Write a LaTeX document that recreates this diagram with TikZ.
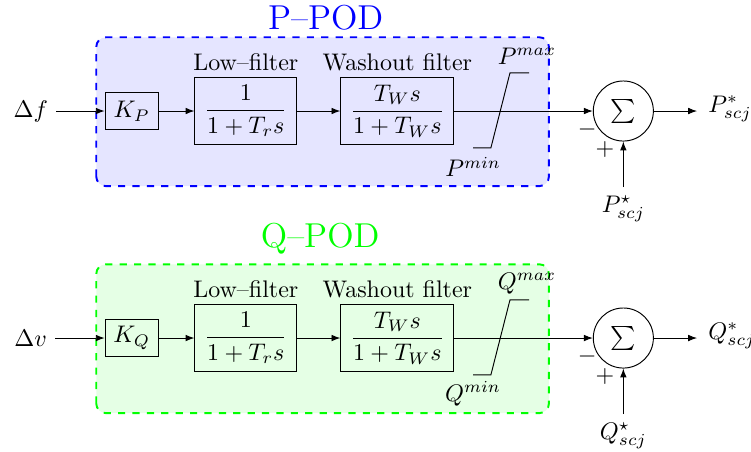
\documentclass[tikz,border=0pt]{standalone}
\usepackage{amsmath,amssymb}
\usetikzlibrary{arrows.meta,positioning}
\tikzset{
  blokk/.style={draw,inner sep=3pt,minimum height=0.97cm},
  nyil/.style={-{Latex[length=1.3mm]}},
  szum/.style={circle,draw,minimum size=0.88cm,inner sep=0pt},
  keret/.style={draw,thick,dashed,rounded corners=4pt},
}
\begin{document}
\begin{tikzpicture}
  \useasboundingbox (0,0) rectangle (11,6.606);
  \foreach \yy/\nev/\bem/\col/\tx/\ty in {4.98/P/f/blue/4.77/1.20,1.655/Q/v/green/4.69/1.33}{
  \begin{scope}[yshift=\yy cm]
    \draw[keret,\col,fill=\col!10] (1.41,-1.10) rectangle (8.04,1.08);
    \node[\col,font=\Large,anchor=base] (cim\nev) at (\tx,\ty) {\nev--POD};
    \node (be\nev) at (0.45,0) {$\Delta \bem$};
    \node[blokk,minimum height=0.53cm,minimum width=0.78cm] (k\nev) at (1.93,0) {$K_\nev$};
    \node[blokk,minimum width=1.49cm] (lp\nev) at (3.60,0) {$\dfrac{1}{1+T_r s}$};
    \node (lpc\nev) at (3.60,0.72) {Low--filter};
    \node[blokk,minimum width=1.655cm] (wf\nev) at (5.82,0) {$\dfrac{T_W s}{1+T_W s}$};
    \node (wfc\nev) at (5.82,0.72) {Washout filter};
    \node[szum] (sum\nev) at (9.13,0) {$\sum$};
    \coordinate (ki\nev) at (10.21,0);
    \node[anchor=west,inner sep=0pt] (kic\nev) at (10.37,0.03) {$\nev^*_{scj}$};
    \node (ref\nev) at (9.13,-1.43) {$\nev^\star_{scj}$};
    % telites
    \draw (6.93,-0.54) -- (7.19,-0.54) -- (7.47,0.56) -- (7.75,0.56);
    \node (max\nev) at (7.72,0.80) {$\nev^{max}$};
    \node (min\nev) at (6.93,-0.82) {$\nev^{min}$};
    \node (mi\nev) at (8.60,-0.27) {$-$};
    \node (pl\nev) at (8.86,-0.57) {$+$};
    \draw[nyil] (be\nev) -- (k\nev);
    \draw[nyil] (k\nev) -- (lp\nev);
    \draw[nyil] (lp\nev) -- (wf\nev);
    \draw[nyil] (wf\nev) -- (sum\nev);
    \draw[nyil] (sum\nev) -- (ki\nev);
    \draw[nyil] (ref\nev) -- (sum\nev);
  \end{scope}}
\end{tikzpicture}
\end{document}
